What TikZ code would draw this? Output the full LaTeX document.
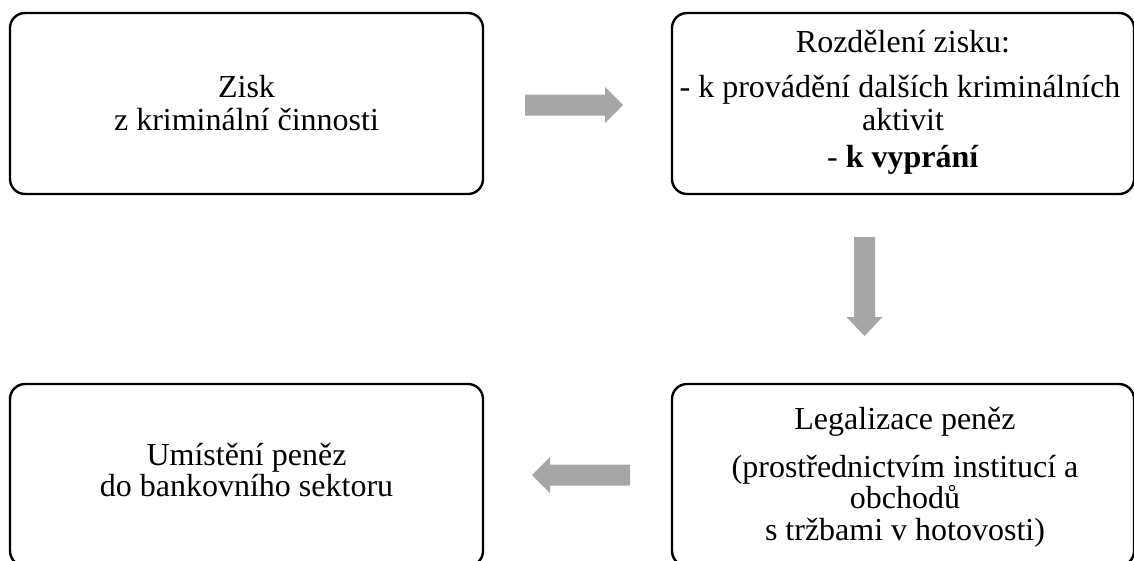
\documentclass[tikz,border=0pt]{standalone}
\usepackage{fontspec}
\setmainfont{Liberation Serif}
\definecolor{arrowgray}{HTML}{A6A6A6}
\begin{document}
\begin{tikzpicture}[x=1pt,y=-1pt,
  box/.style={draw=black, line width=2.4pt, rounded corners=15pt, inner sep=0pt},
  txt/.style={anchor=base, inner sep=0pt, font=\fontsize{32}{35}\selectfont},
  blockarrow/.style={fill=arrowgray, draw=none}]
\useasboundingbox (0,0) rectangle (1134,560);
% boxes
\node[box, minimum width=473pt, minimum height=181pt] (b1) at (246.5,103.5) {};
\node[box, minimum width=462pt, minimum height=181pt] (b2) at (903,103.5) {};
\node[box, minimum width=473pt, minimum height=182pt] (b3) at (246.5,475) {};
\node[box, minimum width=462pt, minimum height=182pt] (b4) at (903,475) {};
% texts
\node[txt] (t11) at (246.5,97) {Zisk};
\node[txt] (t12) at (246.5,130) {z kriminální činnosti};
\node[txt] (t21) at (903,52) {Rozdělení zisku:};
\node[txt] (t22) at (900,97) {- k provádění dalších kriminálních};
\node[txt] (t23) at (903,130) {aktivit};
\node[txt] (t24) at (903,167) {- \textbf{k vyprání}};
\node[txt] (t31) at (246.5,465) {Umístění peněz};
\node[txt] (t32) at (246.5,496) {do bankovního sektoru};
\node[txt] (t41) at (905,429) {Legalizace peněz};
\node[txt] (t42) at (905,477) {(prostřednictvím institucí a};
\node[txt] (t43) at (905,508) {obchodů};
\node[txt] (t44) at (905,540) {s tržbami v hotovosti)};
% block arrows
\fill[blockarrow] (525,94.5) -- (605,94.5) -- (605,87) -- (623,105) -- (605,123) -- (605,115.5) -- (525,115.5) -- cycle;
\fill[blockarrow] (854,237) -- (875,237) -- (875,317) -- (882.5,317) -- (864.5,336) -- (846.5,317) -- (854,317) -- cycle;
\fill[blockarrow] (630,464.5) -- (550,464.5) -- (550,457) -- (532,475) -- (550,493) -- (550,485.5) -- (630,485.5) -- cycle;
\end{tikzpicture}
\end{document}
